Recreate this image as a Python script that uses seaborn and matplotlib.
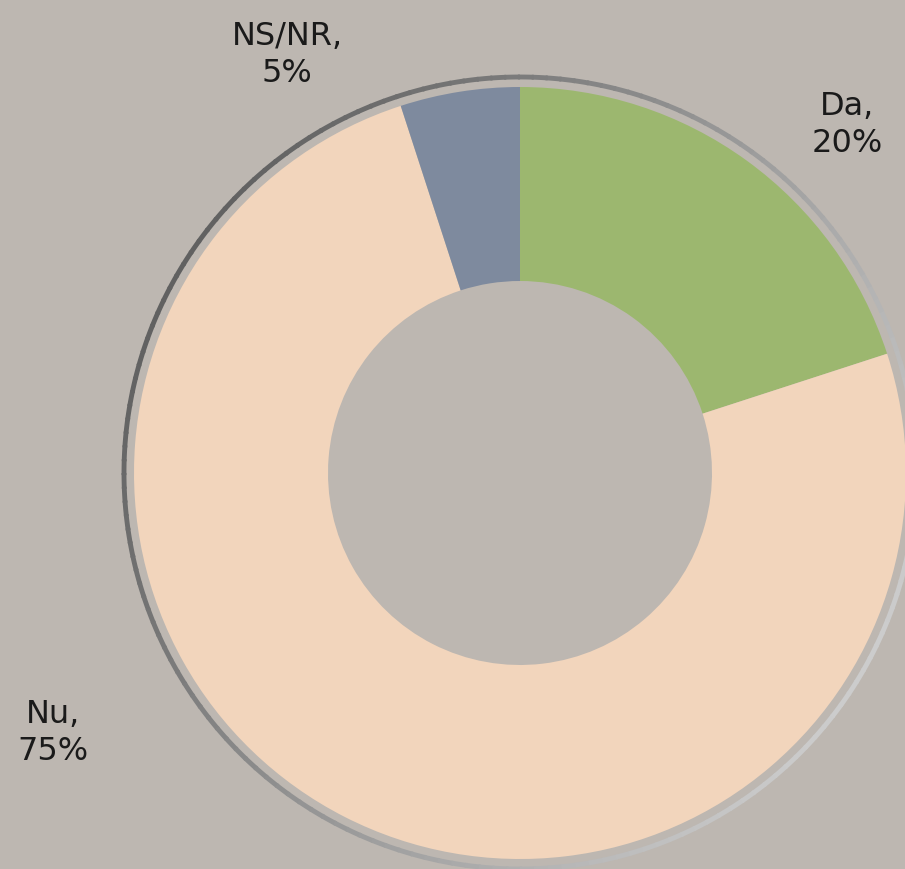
import numpy as np
import matplotlib
matplotlib.use('Agg')
import matplotlib.pyplot as plt
from matplotlib.patches import Arc
import seaborn as sns

# data
answers = ['Da', 'Nu', 'NS/NR']
shares = [20, 75, 5]
colors = ['#9CB76F', '#F2D5BC', '#7E8A9E']

bg = '#BDB7B1'
sns.set_theme(style='white', rc={'axes.facecolor': bg, 'figure.facecolor': bg})
plt.rcParams['font.family'] = ['DejaVu Sans']

fig = plt.figure(figsize=(9.05, 8.7), dpi=100)
ax = fig.add_axes([0, 0, 1, 1])

cx, cy, r = 520, 396, 386
ax.pie(shares, colors=colors, startangle=90, counterclock=False,
       center=(cx, cy), radius=r, frame=True,
       wedgeprops={'width': r - 192, 'linewidth': 0})
ax.set_xlim(0, 905)
ax.set_ylim(0, 870)
ax.set_aspect('equal')
ax.axis('off')

# metallic outer ring, built from short arcs with shifting grey
n_seg = 180
for i in range(n_seg):
    a0 = i * 360 / n_seg
    mid = np.radians(a0 + 1)
    g = 0.38 + 0.42 * (1 - np.cos(mid - np.radians(150))) / 2
    ax.add_patch(Arc((cx, cy), 2 * 396, 2 * 396, theta1=a0, theta2=a0 + 360 / n_seg + 0.3,
                     color=(g, g, g), lw=3.5))

label_pos = {'Da': (847, 745), 'Nu': (53, 137), 'NS/NR': (287, 815)}
for name, val in zip(answers, shares):
    x, y = label_pos[name]
    ax.text(x, y, f'{name},\n{val}%', ha='center', va='center',
            fontsize=23, color='#1a1a1a', linespacing=1.25)

fig.savefig('out.png', dpi=100, facecolor=bg)
